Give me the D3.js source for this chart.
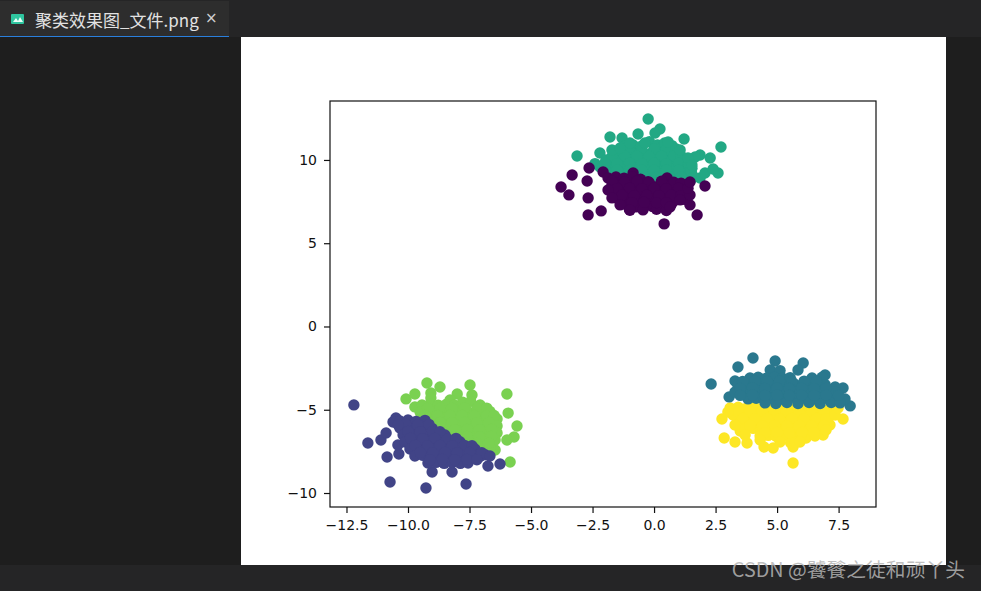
<!DOCTYPE html>
<html lang="en">
    <head>
        <meta charset="utf-8">
        <style type="text/css">
            html, body { margin: 0; padding: 0; background: #1e1e1e; }
            svg { display: block; }
            .axis text { font-family: "DejaVu Sans", sans-serif; font-size: 14px; fill: #111; }
            .axis path { display: none; }
            .axis line { stroke: #111; stroke-width: 1.2px; }
        </style>
    </head>
    <body>
        <svg width="981" height="591"></svg>

        <script src="https://d3js.org/d3.v7.min.js"></script>
        <script>
            var xTicks = [-12.5, -10, -7.5, -5, -2.5, 0, 2.5, 5, 7.5];
            var yTicks = [-10, -5, 0, 5, 10];
            var xDomain = [-13.17, 9.02];
            var yDomain = [-10.84, 13.54];
            var tabTitle = "聚类效果图_文件.png";
            var watermark = "CSDN @饕餮之徒和顽丫头";

            var purple = [
                [-2.64,9.52],[-3.33,9.10],[-2.72,8.74],[-3.78,8.38],[-3.46,7.90],[-2.68,7.72],[-2.68,6.70],[-2.15,6.94],
                [0.41,6.16],[1.75,6.70],[1.46,7.30],[2.07,8.44],[-2.07,9.28],[-0.85,9.22],[0.53,8.92],
                [-1.87,8.92],[-1.55,8.98],[-1.22,8.90],[-0.88,9.00],[-0.55,8.84],[-0.24,8.70],
                [-1.71,8.50],[-1.38,8.44],[-1.05,8.52],[-0.72,8.46],[-0.40,8.50],[-0.08,8.42],[0.24,8.50],[0.65,8.50],[0.95,8.44],[1.26,8.50],
                [-1.67,8.08],[-1.33,8.12],[-1.00,8.04],[-0.67,8.10],[-0.33,8.06],[0.00,8.10],[0.33,8.04],[0.66,8.10],[0.98,8.06],[1.30,8.12],
                [-1.46,7.66],[-1.12,7.70],[-0.79,7.62],[-0.46,7.68],[-0.13,7.62],[0.20,7.70],[0.53,7.64],[0.87,7.60],[1.22,7.64],
                [-1.06,7.24],[-0.73,7.18],[-0.40,7.26],[-0.07,7.20],[0.26,7.24],[0.58,7.18],[0.73,7.40],
                [-1.00,7.02],[-0.45,7.00],[0.10,7.04],[0.50,6.96],
                [-1.70,8.72],[-1.20,8.70],[-0.70,8.72],[-0.20,8.64],[0.30,8.72],[0.80,8.66],[1.10,8.60],
                [-1.50,8.28],[-1.00,8.30],[-0.50,8.28],[0.00,8.30],[0.50,8.28],[1.00,8.30],
                [-1.30,7.88],[-0.80,7.86],[-0.30,7.88],[0.20,7.86],[0.70,7.88],[1.10,7.86],
                [-0.90,7.44],[-0.40,7.46],[0.10,7.44],[0.50,7.44],
                [-1.87,8.20],[-1.71,7.72],[-1.38,7.30],[-0.98,6.98],[0.65,7.18],[1.06,7.60],[1.46,7.90],[1.38,8.30],[1.46,8.68]
            ];
            var teal = [
                [-0.24,12.46],[-1.79,11.38],[-3.13,10.24],[2.72,10.78],[1.22,11.26],[-0.65,11.56],[-1.30,11.32],[0.24,11.86],
                [2.60,9.22],[1.87,8.92],[2.28,10.12],[1.87,10.30],[1.67,10.18],[-2.20,10.42],[2.07,9.22],[2.40,9.46],[0.04,11.62],
                [-1.18,10.84],[-0.85,10.90],[-0.52,10.82],[-0.19,11.10],[0.14,10.90],[0.43,11.02],[0.73,10.86],
                [-1.50,10.42],[-1.17,10.46],[-0.84,10.40],[-0.51,10.44],[-0.18,10.38],[0.15,10.44],[0.48,10.40],[0.78,10.46],[0.98,10.40],
                [-1.95,10.00],[-1.62,10.04],[-1.29,9.98],[-0.96,10.02],[-0.63,9.96],[-0.30,10.02],[0.03,9.98],[0.36,10.02],[0.69,9.96],[1.00,10.02],[1.22,9.98],
                [-2.20,9.58],[-1.87,9.62],[-1.54,9.56],[-1.21,9.60],[-0.88,9.56],[-0.55,9.60],[-0.22,9.54],[0.11,9.60],[0.44,9.56],[0.77,9.60],[1.10,9.54],[1.40,9.60],[1.54,9.50],
                [-1.71,9.16],[-1.38,9.20],[-1.05,9.16],[-0.72,9.20],[-0.39,9.16],[-0.06,9.20],[0.27,9.16],[0.60,9.20],[0.93,9.14],[1.26,9.20],[1.54,9.14],
                [-0.57,8.74],[-0.24,8.78],[0.09,8.72],[0.42,8.78],[0.75,8.74],[1.08,8.78],[1.46,8.74],
                [-1.00,10.64],[-0.50,10.62],[0.00,10.66],[0.50,10.62],[0.90,10.66],
                [-1.70,10.22],[-1.20,10.24],[-0.70,10.22],[-0.20,10.24],[0.30,10.22],[0.80,10.24],[1.10,10.22],
                [-2.40,9.78],[-2.00,9.80],[-1.50,9.78],[-1.00,9.80],[-0.50,9.78],[0.00,9.80],[0.50,9.78],[1.00,9.80],[1.40,9.78],
                [-2.00,9.38],[-1.50,9.38],[-1.00,9.38],[-0.50,9.38],[0.00,9.38],[0.50,9.38],[1.00,9.38],[1.50,9.32],
                [-0.40,8.96],[0.10,8.96],[0.60,8.96],[1.10,8.96],[1.60,8.96],
                [-1.71,10.60],[-1.38,10.72],[-0.98,11.02],[-0.37,11.02],[0.57,11.08],[1.06,10.60],[1.38,10.12],[1.54,9.70]
            ];
            var navy = [
                [-12.20,-4.71],[-11.63,-7.00],[-11.10,-6.82],[-10.89,-6.40],[-10.85,-7.84],[-10.37,-7.66],[-10.73,-9.34],[-9.27,-9.70],
                [-7.64,-9.46],[-6.75,-8.38],[-6.26,-8.26],[-9.02,-8.74],[-8.21,-8.74],[-10.49,-5.50],[-10.61,-5.74],[-10.41,-7.12],
                [-10.33,-5.68],[-10.00,-5.62],[-9.67,-5.70],[-9.31,-5.64],
                [-10.33,-6.10],[-10.00,-6.06],[-9.67,-6.12],[-9.34,-6.06],[-9.02,-6.12],
                [-10.20,-6.52],[-9.87,-6.48],[-9.54,-6.54],[-9.21,-6.48],[-8.85,-6.54],[-8.50,-6.52],
                [-10.12,-6.94],[-9.79,-6.90],[-9.46,-6.96],[-9.13,-6.90],[-8.80,-6.96],[-8.47,-6.90],[-8.14,-6.96],[-7.89,-6.92],
                [-9.92,-7.36],[-9.59,-7.32],[-9.26,-7.38],[-8.93,-7.32],[-8.60,-7.38],[-8.27,-7.32],[-7.94,-7.38],[-7.61,-7.32],[-7.28,-7.36],
                [-9.72,-7.78],[-9.39,-7.74],[-9.06,-7.80],[-8.73,-7.74],[-8.40,-7.80],[-8.07,-7.74],[-7.74,-7.80],[-7.41,-7.74],[-7.08,-7.80],[-6.87,-7.70],
                [-9.19,-8.20],[-8.86,-8.16],[-8.53,-8.22],[-8.20,-8.16],[-7.87,-8.22],[-7.56,-8.20],
                [-10.10,-5.88],[-9.60,-5.90],[-9.15,-5.88],
                [-10.00,-6.30],[-9.50,-6.32],[-9.00,-6.30],[-8.70,-6.32],
                [-9.90,-6.72],[-9.40,-6.74],[-8.90,-6.72],[-8.40,-6.74],[-8.05,-6.72],
                [-9.70,-7.14],[-9.20,-7.16],[-8.70,-7.14],[-8.20,-7.16],[-7.70,-7.14],[-7.40,-7.16],
                [-9.50,-7.56],[-9.00,-7.58],[-8.50,-7.56],[-8.00,-7.58],[-7.50,-7.56],[-7.00,-7.58],
                [-9.10,-8.00],[-8.60,-7.98],[-8.10,-8.00],[-7.60,-7.98],[-7.20,-8.00],
                [-10.40,-5.90],[-6.67,-7.78]
            ];
            var green = [
                [-9.23,-3.39],[-8.70,-3.63],[-7.48,-3.51],[-5.98,-4.05],[-10.08,-4.35],[-9.72,-4.05],[-9.07,-3.99],[-5.93,-5.20],
                [-5.57,-5.98],[-5.69,-6.64],[-5.98,-6.82],[-5.85,-8.14],[-8.00,-4.05],[-7.40,-4.11],[-9.72,-4.83],[-6.46,-7.42],[-9.07,-4.29],[-8.29,-4.41],
                [-9.43,-4.71],[-9.10,-4.67],[-8.77,-4.73],[-8.44,-4.67],[-8.11,-4.73],[-7.78,-4.55],[-7.45,-4.50],[-7.07,-4.71],
                [-9.51,-5.13],[-9.18,-5.09],[-8.85,-5.15],[-8.52,-5.09],[-8.19,-5.15],[-7.86,-5.09],[-7.53,-5.15],[-7.20,-5.09],[-6.87,-5.15],[-6.67,-5.10],
                [-9.51,-5.56],[-9.18,-5.52],[-8.85,-5.58],[-8.52,-5.52],[-8.19,-5.58],[-7.86,-5.52],[-7.53,-5.58],[-7.20,-5.52],[-6.87,-5.58],[-6.54,-5.52],[-6.38,-5.56],
                [-8.90,-5.98],[-8.57,-5.94],[-8.24,-6.00],[-7.91,-5.94],[-7.58,-6.00],[-7.25,-5.94],[-6.92,-6.00],[-6.59,-5.94],[-6.38,-5.98],
                [-8.50,-6.40],[-8.17,-6.36],[-7.84,-6.42],[-7.51,-6.36],[-7.18,-6.42],[-6.85,-6.36],[-6.52,-6.42],[-6.38,-6.40],
                [-7.89,-6.82],[-7.56,-6.78],[-7.23,-6.84],[-6.90,-6.78],[-6.46,-6.82],
                [-7.48,-7.24],[-7.15,-7.20],[-6.82,-7.26],[-6.67,-7.20],
                [-9.20,-4.92],[-8.70,-4.90],[-8.20,-4.92],[-7.70,-4.90],[-7.20,-4.92],[-6.80,-4.90],
                [-9.30,-5.34],[-8.80,-5.34],[-8.30,-5.34],[-7.80,-5.34],[-7.30,-5.34],[-6.80,-5.34],[-6.50,-5.34],
                [-8.70,-5.76],[-8.20,-5.78],[-7.70,-5.76],[-7.20,-5.78],[-6.70,-5.76],
                [-8.10,-6.20],[-7.60,-6.18],[-7.10,-6.20],[-6.60,-6.18],
                [-7.60,-6.60],[-7.10,-6.62],[-6.60,-6.60],
                [-7.20,-7.02],[-6.70,-7.00]
            ];
            var blue = [
                [2.32,-3.45],[3.41,-2.43],[4.02,-1.89],[4.92,-2.07],[6.06,-2.19],[7.97,-4.77],[3.05,-4.23],[3.29,-3.27],
                [7.68,-3.69],[7.36,-3.63],[5.85,-2.61],[6.95,-2.91],
                [4.72,-2.61],[5.12,-2.65],
                [3.90,-3.09],[4.23,-3.05],[4.56,-3.11],[4.89,-3.05],[5.22,-3.11],[5.53,-3.07],[6.42,-3.09],[6.83,-3.05],
                [3.41,-3.51],[3.74,-3.47],[4.07,-3.53],[4.40,-3.47],[4.73,-3.53],[5.06,-3.47],[5.39,-3.53],[5.72,-3.47],[6.05,-3.53],[6.38,-3.47],[6.71,-3.53],[6.95,-3.49],
                [3.29,-3.93],[3.62,-3.89],[3.95,-3.95],[4.28,-3.89],[4.61,-3.95],[4.94,-3.89],[5.27,-3.95],[5.60,-3.89],[5.93,-3.95],[6.26,-3.89],[6.59,-3.95],[6.92,-3.89],[7.36,-3.93],[7.10,-3.97],
                [3.82,-4.35],[4.15,-4.31],[4.48,-4.37],[4.81,-4.31],[5.14,-4.37],[5.47,-4.31],[5.80,-4.37],[6.13,-4.31],[6.46,-4.37],[6.79,-4.31],[7.12,-4.37],[7.45,-4.31],[7.76,-4.35],
                [4.51,-4.59],[4.95,-4.63],[5.40,-4.57],[5.85,-4.63],[6.30,-4.57],[6.75,-4.63],[7.20,-4.57],[7.56,-4.59],
                [3.60,-3.30],[4.10,-3.28],[4.60,-3.30],[5.10,-3.28],[5.60,-3.30],[6.10,-3.28],[6.60,-3.30],
                [3.50,-3.72],[4.00,-3.70],[4.50,-3.72],[5.00,-3.70],[5.50,-3.72],[6.00,-3.70],[6.50,-3.72],[7.00,-3.70],
                [3.50,-4.14],[4.00,-4.12],[4.50,-4.14],[5.00,-4.12],[5.50,-4.14],[6.00,-4.12],[6.50,-4.14],[7.00,-4.12],[7.50,-4.14]
            ];
            var yellow = [
                [5.65,-8.20],[2.85,-6.70],[2.76,-5.56],[7.68,-5.56],[3.29,-6.94],[3.78,-7.00],[4.47,-7.24],[4.84,-7.30],[5.65,-7.24],
                [6.87,-6.52],[6.18,-6.70],[7.15,-5.92],[3.50,-6.28],
                [3.09,-4.89],[3.42,-4.85],[3.75,-4.91],[4.08,-4.85],[4.41,-4.91],[4.74,-4.85],[5.07,-4.91],[5.40,-4.85],[5.73,-4.91],[6.06,-4.85],[6.39,-4.91],[6.72,-4.85],[7.15,-4.89],
                [3.21,-5.32],[3.54,-5.28],[3.87,-5.34],[4.20,-5.28],[4.53,-5.34],[4.86,-5.28],[5.19,-5.34],[5.52,-5.28],[5.85,-5.34],[6.18,-5.28],[6.51,-5.34],[6.84,-5.28],[7.15,-5.32],
                [3.50,-5.74],[3.83,-5.70],[4.16,-5.76],[4.49,-5.70],[4.82,-5.76],[5.15,-5.70],[5.48,-5.76],[5.81,-5.70],[6.14,-5.76],[6.47,-5.70],[6.80,-5.76],[7.07,-5.72],
                [3.70,-6.16],[4.03,-6.12],[4.36,-6.18],[4.69,-6.12],[5.02,-6.18],[5.35,-6.12],[5.68,-6.18],[6.01,-6.12],[6.34,-6.18],[6.67,-6.12],[6.95,-6.16],
                [4.31,-6.58],[4.64,-6.54],[4.97,-6.60],[5.30,-6.54],[5.63,-6.60],[5.96,-6.54],[6.54,-6.58],
                [5.55,-6.98],[5.75,-6.96],
                [3.40,-5.10],[3.90,-5.12],[4.40,-5.10],[4.90,-5.12],[5.40,-5.10],[5.90,-5.12],[6.40,-5.10],[6.90,-5.12],
                [3.60,-5.52],[4.10,-5.54],[4.60,-5.52],[5.10,-5.54],[5.60,-5.52],[6.10,-5.54],[6.60,-5.52],[7.00,-5.54],
                [3.90,-5.94],[4.40,-5.96],[4.90,-5.94],[5.40,-5.96],[5.90,-5.94],[6.40,-5.96],[6.90,-5.94],
                [4.50,-6.38],[5.00,-6.36],[5.50,-6.38],[6.00,-6.36],[6.50,-6.38],
                [3.00,-5.14],[3.29,-5.92],[3.70,-6.52],[4.31,-6.82],[5.12,-6.94],[5.93,-6.94],[6.99,-6.22],[7.36,-5.32],[7.48,-4.89]
            ];

            // later groups sit on top where the blobs touch
            var groups = [
                { points: yellow, color: "#fde725" },
                { points: green, color: "#7ad151" },
                { points: teal, color: "#22a884" },
                { points: purple, color: "#440154" },
                { points: navy, color: "#414487" },
                { points: blue, color: "#2a788e" }
            ];

            var svg = d3.select("svg");

            // editor window around the picture
            svg.append("rect").attr("width", 981).attr("height", 591).attr("fill", "#1e1e1e");
            svg.append("rect").attr("width", 981).attr("height", 37).attr("fill", "#252526");
            svg.append("rect").attr("y", 1).attr("width", 229).attr("height", 35).attr("fill", "#2d2d2d");
            svg.append("rect").attr("y", 36).attr("width", 229).attr("height", 1).attr("fill", "#2a7fdc");
            svg.append("rect").attr("x", 11).attr("y", 14).attr("width", 13).attr("height", 10).attr("rx", 1).attr("fill", "#2fc59f");
            svg.append("path").attr("d", "M13 22 L16 18 L18 21 L20 17 L23 22 Z").attr("fill", "#e8fff8");
            svg.append("text").attr("x", 35).attr("y", 27)
                .attr("font-family", "'Noto Sans CJK SC', sans-serif").attr("font-size", 17).attr("fill", "#e2e2e2")
                .text(tabTitle);
            svg.append("text").attr("x", 205).attr("y", 23)
                .attr("font-family", "'DejaVu Sans', sans-serif").attr("font-size", 15).attr("fill", "#d0d0d0")
                .text("×");
            svg.append("rect").attr("y", 565).attr("width", 981).attr("height", 26).attr("fill", "#252526");
            svg.append("rect").attr("x", 241).attr("y", 37).attr("width", 705).attr("height", 528).attr("fill", "#fff");

            var x = d3.scaleLinear().domain(xDomain).range([330, 876]);
            var y = d3.scaleLinear().domain(yDomain).range([507, 101]);

            groups.forEach(function (g) {
                svg.append("g").selectAll("circle")
                    .data(g.points)
                    .enter()
                    .append("circle")
                    .attr("cx", function (d) {return x(d[0]);})
                    .attr("cy", function (d) {return y(d[1]);})
                    .attr("r", 5.7)
                    .attr("fill", g.color);
            });

            var xAxis = d3.axisBottom(x).tickValues(xTicks).tickSizeInner(6).tickSizeOuter(0).tickPadding(7)
                .tickFormat(d3.format(".1f"));
            var yAxis = d3.axisLeft(y).tickValues(yTicks).tickSizeInner(6).tickSizeOuter(0).tickPadding(7)
                .tickFormat(d3.format("d"));

            svg.append("g").attr("class", "axis").attr("transform", "translate(0,507)").call(xAxis);
            svg.append("g").attr("class", "axis").attr("transform", "translate(330,0)").call(yAxis);
            svg.append("rect").attr("x", 330).attr("y", 101).attr("width", 546).attr("height", 406)
                .attr("fill", "none").attr("stroke", "#111").attr("stroke-width", 1.2);

            svg.append("text").attr("x", 965).attr("y", 577).attr("text-anchor", "end")
                .attr("font-family", "'Noto Sans CJK SC', sans-serif").attr("font-size", 19.8)
                .attr("fill", "#b4b4b4").attr("fill-opacity", 0.85)
                .text(watermark);
        </script>
    </body>
</html>
